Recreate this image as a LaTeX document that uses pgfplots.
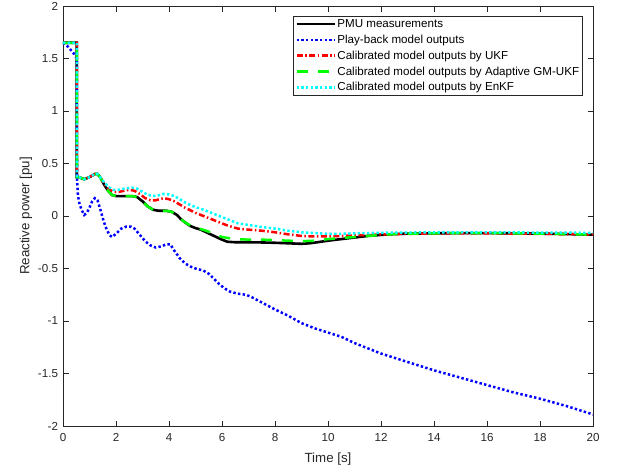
\documentclass[border=0pt]{standalone}
\usepackage{pgfplots}
\pgfplotsset{compat=1.18}
\usepackage{fontspec}
\setmainfont{Liberation Sans}
\definecolor{axgray}{gray}{0.15}
\definecolor{mblue}{rgb}{0,0,1}
\definecolor{mred}{rgb}{1,0,0}
\definecolor{mgreen}{rgb}{0,1,0}
\definecolor{mcyan}{rgb}{0,1,1}
\begin{document}
\begin{tikzpicture}
\useasboundingbox (-63pt,-45pt) rectangle (554pt,426pt);
\begin{axis}[
 scale only axis, width=530pt, height=420pt,
 xmin=0, xmax=20, ymin=-2, ymax=2,
 xtick={0,2,...,20}, ytick={-2,-1.5,...,2},
 tick align=inside, major tick length=5.5pt,
 axis line style={axgray, line width=0.7pt},
 every tick/.style={axgray, line width=0.7pt},
 tick label style={font=\fontsize{11.6}{14}\selectfont, text=axgray},
 x tick label style={yshift=-3.5pt},
 y tick label style={xshift=-1.5pt},
 /pgf/number format/assume math mode=true,
 label style={font=\fontsize{13.3}{16}\selectfont, text=axgray},
 xlabel={Time [s]}, ylabel={Reactive power [pu]},
 xlabel style={at={(axis description cs:0.5,-0.0786)}, anchor=center},
 ylabel style={at={(axis description cs:-0.0698,0.5)}, anchor=center},
 legend cell align=left,
 legend image code/.code={\draw[#1] (0pt,0pt) -- (38pt,0pt);},
 legend style={at={(axis description cs:1,1)}, anchor=north east, xshift=-10pt, yshift=-10pt,
   draw=axgray, line width=0.7pt, font=\fontsize{11.6}{14}\selectfont, text=black,
   inner xsep=2pt, inner ysep=1.5pt, row sep=3pt,
   nodes={inner sep=1.5pt}},
]
\addplot[black, line width=2.6pt] coordinates {
(0,1.65) (0.52,1.65) (0.52,0.37) (0.6,0.37) (0.8,0.35) (1.0,0.37) (1.2,0.40) (1.3,0.40) (1.4,0.37)
(1.55,0.30) (1.7,0.24) (1.85,0.20) (2.0,0.19) (2.3,0.19) (2.6,0.19) (2.8,0.18) (3.0,0.14) (3.2,0.09)
(3.4,0.06) (3.6,0.05) (3.9,0.05) (4.1,0.04) (4.3,0.01) (4.45,-0.03) (4.6,-0.06) (4.8,-0.095) (5.0,-0.115)
(5.2,-0.13) (5.45,-0.16) (5.7,-0.19) (5.95,-0.22) (6.2,-0.245) (6.5,-0.25) (7.0,-0.25) (7.5,-0.252)
(8.0,-0.255) (8.5,-0.26) (9.0,-0.265) (9.3,-0.26) (9.6,-0.25) (10,-0.235) (10.5,-0.22) (11,-0.205)
(11.5,-0.19) (12,-0.18) (12.5,-0.172) (13,-0.168) (14,-0.165) (15,-0.163) (16,-0.163) (17,-0.165)
(18,-0.168) (19,-0.172) (20,-0.178)};
\addlegendentry{PMU measurements}
\addplot[mblue, line width=2.5pt, dash pattern=on 2.4pt off 2.3pt] coordinates {
(0,1.65) (0.2,1.61) (0.4,1.55) (0.52,1.50) (0.53,0.35) (0.56,0.2) (0.62,0.12) (0.7,0.06) (0.8,0.01)
(0.9,0.03) (1.0,0.08) (1.1,0.14) (1.2,0.17) (1.3,0.15) (1.4,0.07) (1.5,-0.02) (1.6,-0.10) (1.75,-0.18)
(1.85,-0.20) (2.0,-0.17) (2.2,-0.12) (2.4,-0.10) (2.55,-0.10) (2.7,-0.12) (2.9,-0.18) (3.1,-0.24)
(3.3,-0.28) (3.5,-0.30) (3.7,-0.29) (3.9,-0.27) (4.05,-0.27) (4.2,-0.33) (4.4,-0.40) (4.6,-0.45)
(4.8,-0.48) (5.0,-0.50) (5.3,-0.52) (5.5,-0.55) (5.7,-0.60) (5.9,-0.65) (6.1,-0.69) (6.3,-0.72)
(6.6,-0.74) (6.9,-0.75) (7.1,-0.77) (7.4,-0.81) (7.7,-0.85) (8.0,-0.89) (8.5,-0.95) (9.0,-1.02)
(9.5,-1.07) (10,-1.11) (10.5,-1.15) (11,-1.21) (11.5,-1.26) (12,-1.31) (12.5,-1.35) (13,-1.39)
(13.5,-1.43) (14,-1.47) (15,-1.54) (16,-1.61) (17,-1.68) (18,-1.74) (19,-1.81) (20,-1.89)};
\addlegendentry{Play-back model outputs}
\addplot[mred, line width=2.5pt, dash pattern=on 6pt off 2.5pt on 1.5pt off 2.5pt] coordinates {
(0,1.65) (0.52,1.65) (0.52,0.37) (0.6,0.37) (0.8,0.35) (1.0,0.37) (1.2,0.40) (1.3,0.40) (1.4,0.37)
(1.55,0.31) (1.7,0.26) (1.9,0.23) (2.1,0.23) (2.3,0.24) (2.5,0.25) (2.7,0.24) (2.9,0.21) (3.1,0.17)
(3.3,0.15) (3.5,0.15) (3.8,0.17) (4.0,0.16) (4.2,0.14) (4.4,0.11) (4.6,0.08) (4.8,0.055) (5.0,0.03)
(5.3,0.0) (5.6,-0.03) (5.9,-0.06) (6.2,-0.09) (6.6,-0.12) (7.0,-0.13) (7.5,-0.14) (8,-0.155)
(8.5,-0.175) (9,-0.19) (9.5,-0.195) (10,-0.195) (10.5,-0.19) (11,-0.185) (12,-0.175) (13,-0.17)
(14,-0.168) (15,-0.165) (16,-0.165) (17,-0.168) (18,-0.17) (19,-0.172) (20,-0.175)};
\addlegendentry{Calibrated model outputs by UKF}
\addplot[mgreen, line width=2.5pt, dash pattern=on 11pt off 10pt] coordinates {
(0,1.65) (0.52,1.65) (0.52,0.37) (0.6,0.37) (0.8,0.35) (1.0,0.37) (1.2,0.40) (1.3,0.40) (1.4,0.37)
(1.55,0.30) (1.7,0.24) (1.85,0.20) (2.0,0.19) (2.3,0.19) (2.6,0.19) (2.8,0.18) (3.0,0.14) (3.2,0.09)
(3.4,0.06) (3.6,0.05) (3.9,0.05) (4.1,0.04) (4.3,0.01) (4.45,-0.03) (4.6,-0.06) (4.8,-0.09) (5.0,-0.11)
(5.4,-0.14) (5.7,-0.17) (6.0,-0.2) (6.5,-0.22) (7,-0.225) (7.5,-0.225) (8,-0.23) (8.5,-0.235)
(9,-0.24) (9.5,-0.235) (10,-0.22) (10.5,-0.21) (11,-0.2) (11.5,-0.19) (12,-0.18) (12.5,-0.172)
(13,-0.168) (14,-0.165) (15,-0.163) (16,-0.163) (17,-0.165) (18,-0.168) (19,-0.172) (20,-0.178)};
\addlegendentry{Calibrated model outputs by Adaptive GM-UKF}
\addplot[mcyan, line width=2.5pt, dash pattern=on 2.4pt off 2.3pt] coordinates {
(0,1.65) (0.52,1.65) (0.52,0.37) (0.6,0.37) (0.8,0.35) (1.0,0.37) (1.2,0.40) (1.3,0.40) (1.4,0.37)
(1.55,0.32) (1.7,0.28) (1.9,0.25) (2.1,0.25) (2.3,0.26) (2.6,0.27) (2.8,0.26) (3.0,0.23) (3.2,0.20)
(3.5,0.19) (3.8,0.21) (4.0,0.205) (4.2,0.19) (4.4,0.16) (4.6,0.13) (4.8,0.105) (5.0,0.085) (5.3,0.06)
(5.6,0.03) (5.9,0.0) (6.2,-0.03) (6.6,-0.07) (7.0,-0.085) (7.5,-0.105) (8,-0.12) (8.5,-0.14)
(9,-0.155) (9.5,-0.163) (10,-0.17) (10.5,-0.17) (11,-0.165) (12,-0.16) (14,-0.155) (16,-0.155)
(18,-0.158) (20,-0.16)};
\addlegendentry{Calibrated model outputs by EnKF}
\end{axis}
\end{tikzpicture}
\end{document}
